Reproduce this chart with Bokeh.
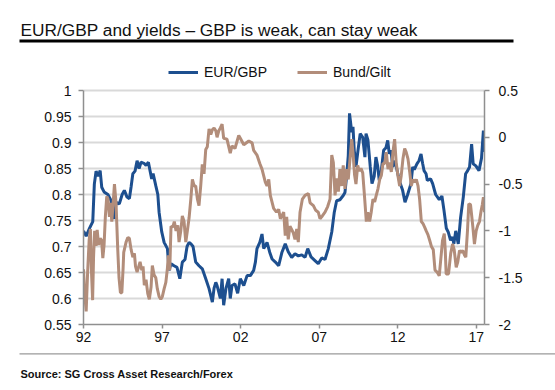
from bokeh.plotting import figure
from bokeh.layouts import column
from bokeh.models import (Range1d, LinearAxis, FixedTicker, Label, BoxAnnotation,
                          Legend, LegendItem)
from bokeh.embed import file_html
from bokeh.resources import INLINE

FONT = "Liberation Sans"

# ---------------- data ----------------
eur_years = [1992.00, 1992.17, 1992.38, 1992.59, 1992.69, 1992.80, 1992.93, 1993.06, 1993.16, 1993.31,
             1993.55, 1993.76, 1993.86, 1993.97, 1994.07, 1994.28, 1994.46, 1994.60, 1994.77, 1994.92,
             1995.03, 1995.14, 1995.28, 1995.41, 1995.54, 1995.66, 1995.85, 1995.98, 1996.13, 1996.24,
             1996.34, 1996.43, 1996.60, 1996.73, 1996.81, 1996.98, 1997.13, 1997.34, 1997.45, 1997.57,
             1997.76, 1997.95, 1998.13, 1998.29, 1998.46, 1998.59, 1998.72, 1998.84, 1998.97, 1999.14,
             1999.35, 1999.56, 1999.78, 1999.99, 2000.12, 2000.20, 2000.31, 2000.42, 2000.50, 2000.71,
             2000.82, 2000.92, 2001.07, 2001.24, 2001.34, 2001.45, 2001.64, 2001.81, 2001.98, 2002.20,
             2002.41, 2002.62, 2002.83, 2002.94, 2003.04, 2003.22, 2003.36, 2003.47, 2003.68, 2003.85,
             2004.00, 2004.21, 2004.42, 2004.63, 2004.84, 2005.03, 2005.25, 2005.46, 2005.67, 2005.89,
             2006.10, 2006.27, 2006.48, 2006.73, 2006.94, 2007.16, 2007.37, 2007.58, 2007.80, 2007.96,
             2008.11, 2008.32, 2008.53, 2008.64, 2008.75, 2008.85, 2008.93, 2009.07, 2009.15, 2009.23,
             2009.34, 2009.47, 2009.61, 2009.77, 2009.91, 2009.98, 2010.10, 2010.25, 2010.36, 2010.50,
             2010.61, 2010.72, 2010.82, 2010.93, 2011.10, 2011.25, 2011.36, 2011.46, 2011.57, 2011.68,
             2011.83, 2012.00, 2012.16, 2012.31, 2012.46, 2012.63, 2012.84, 2012.95, 2013.05, 2013.22,
             2013.35, 2013.48, 2013.58, 2013.67, 2013.80, 2013.88, 2014.09, 2014.22, 2014.41, 2014.64,
             2014.81, 2014.94, 2015.09, 2015.21, 2015.36, 2015.49, 2015.57, 2015.69, 2015.85, 2016.00,
             2016.17, 2016.32, 2016.45, 2016.57, 2016.70, 2016.80, 2016.97, 2017.17, 2017.33, 2017.45,
             2017.52]
eur_values = [0.730, 0.720, 0.735, 0.748, 0.820, 0.845, 0.835, 0.846, 0.814, 0.805,
              0.800, 0.788, 0.770, 0.753, 0.785, 0.782, 0.800, 0.808, 0.795, 0.792,
              0.815, 0.840, 0.845, 0.865, 0.850, 0.862, 0.860, 0.856, 0.862, 0.845,
              0.830, 0.840, 0.817, 0.800, 0.766, 0.728, 0.708, 0.696, 0.654, 0.667,
              0.663, 0.660, 0.638, 0.670, 0.675, 0.700, 0.708, 0.705, 0.700, 0.670,
              0.663, 0.657, 0.638, 0.619, 0.603, 0.593, 0.620, 0.631, 0.625, 0.600,
              0.638, 0.587, 0.620, 0.638, 0.600, 0.625, 0.628, 0.610, 0.638, 0.625,
              0.644, 0.644, 0.654, 0.670, 0.696, 0.708, 0.724, 0.696, 0.708, 0.689,
              0.676, 0.670, 0.663, 0.689, 0.705, 0.690, 0.679, 0.686, 0.682, 0.684,
              0.679, 0.696, 0.680, 0.673, 0.667, 0.678, 0.675, 0.696, 0.728, 0.766,
              0.788, 0.790, 0.798, 0.804, 0.837, 0.875, 0.956, 0.920, 0.930, 0.885,
              0.853, 0.885, 0.917, 0.910, 0.872, 0.917, 0.905, 0.853, 0.821, 0.835,
              0.872, 0.855, 0.827, 0.840, 0.885, 0.890, 0.904, 0.878, 0.885, 0.853,
              0.865, 0.840, 0.821, 0.808, 0.785, 0.800, 0.821, 0.853, 0.848, 0.859,
              0.865, 0.878, 0.860, 0.846, 0.840, 0.827, 0.830, 0.821, 0.800, 0.790,
              0.797, 0.770, 0.735, 0.728, 0.712, 0.718, 0.705, 0.730, 0.705, 0.756,
              0.795, 0.840, 0.846, 0.853, 0.897, 0.859, 0.855, 0.846, 0.870, 0.923,
              0.882]

bund_years = [1992.00, 1992.06, 1992.17, 1992.26, 1992.36, 1992.44, 1992.50, 1992.58, 1992.64, 1992.71,
              1992.80, 1992.87, 1992.96, 1993.06, 1993.15, 1993.23, 1993.31, 1993.39, 1993.48, 1993.56,
              1993.65, 1993.72, 1993.80, 1993.88, 1993.97, 1994.07, 1994.18, 1994.26, 1994.35, 1994.44,
              1994.52, 1994.56, 1994.71, 1994.82, 1994.92, 1995.03, 1995.14, 1995.24, 1995.31, 1995.41,
              1995.50, 1995.60, 1995.71, 1995.79, 1995.87, 1995.98, 1996.09, 1996.19, 1996.30, 1996.38,
              1996.49, 1996.60, 1996.70, 1996.81, 1996.92, 1997.02, 1997.13, 1997.24, 1997.34, 1997.40,
              1997.49, 1997.57, 1997.68, 1997.78, 1997.89, 1998.00, 1998.08, 1998.19, 1998.29, 1998.40,
              1998.51, 1998.61, 1998.72, 1998.83, 1998.93, 1999.04, 1999.14, 1999.25, 1999.35, 1999.46,
              1999.56, 1999.67, 1999.78, 1999.88, 1999.99, 2000.10, 2000.20, 2000.31, 2000.42, 2000.50,
              2000.61, 2000.71, 2000.82, 2000.92, 2001.13, 2001.34, 2001.45, 2001.64, 2001.88, 2001.98,
              2002.20, 2002.52, 2002.73, 2002.83, 2003.04, 2003.22, 2003.36, 2003.57, 2003.68, 2003.79,
              2003.89, 2004.10, 2004.28, 2004.42, 2004.53, 2004.74, 2004.84, 2004.93, 2005.03, 2005.14,
              2005.35, 2005.46, 2005.57, 2005.67, 2005.78, 2005.93, 2006.10, 2006.31, 2006.42, 2006.63,
              2006.78, 2006.94, 2007.05, 2007.20, 2007.37, 2007.54, 2007.69, 2007.80, 2007.90, 2008.01,
              2008.11, 2008.22, 2008.32, 2008.43, 2008.53, 2008.64, 2008.75, 2008.85, 2008.96, 2009.07,
              2009.15, 2009.25, 2009.34, 2009.45, 2009.55, 2009.66, 2009.77, 2009.87, 2010.00, 2010.10,
              2010.21, 2010.31, 2010.42, 2010.53, 2010.63, 2010.74, 2010.85, 2010.95, 2011.06, 2011.17,
              2011.27, 2011.38, 2011.48, 2011.59, 2011.69, 2011.80, 2011.90, 2012.01, 2012.12, 2012.22,
              2012.33, 2012.44, 2012.54, 2012.65, 2012.76, 2012.86, 2012.97, 2013.08, 2013.18, 2013.29,
              2013.39, 2013.50, 2013.60, 2013.71, 2013.81, 2013.92, 2014.03, 2014.15, 2014.26, 2014.37,
              2014.50, 2014.64, 2014.74, 2014.85, 2014.96, 2015.02, 2015.08, 2015.23, 2015.37, 2015.49,
              2015.59, 2015.72, 2015.82, 2015.93, 2016.04, 2016.14, 2016.25, 2016.33, 2016.44, 2016.52,
              2016.63, 2016.70, 2016.78, 2016.88, 2016.99, 2017.09, 2017.20, 2017.31, 2017.38, 2017.45,
              2017.52]
bund_values = [-1.41, -1.64, -1.86, -1.45, -1.10, -0.98, -1.40, -1.74, -1.28, -1.00,
               -1.16, -0.99, -1.15, -1.08, -1.10, -1.29, -1.15, -0.85, -0.63, -0.66,
               -0.85, -0.70, -0.90, -0.72, -0.50, -0.70, -1.20, -1.50, -1.66, -1.66,
               -1.40, -1.23, -1.12, -1.07, -1.08, -1.20, -1.28, -1.24, -1.38, -1.44,
               -1.39, -1.33, -1.42, -1.38, -1.58, -1.52, -1.67, -1.73, -1.60, -1.37,
               -1.47, -1.50, -1.62, -1.70, -1.73, -1.70, -1.62, -1.55, -1.40, -1.26,
               -1.42, -0.95, -0.96, -0.90, -1.00, -0.94, -1.12, -1.00, -0.84, -0.90,
               -1.12, -1.00, -0.86, -0.66, -0.45, -0.52, -0.52, -0.66, -0.73, -0.52,
               -0.29, -0.39, -0.13, -0.10, 0.09, 0.03, 0.08, 0.10, 0.07, 0.00,
               0.07, 0.10, 0.14, -0.01, -0.02, -0.17, -0.09, -0.12, 0.02, -0.01,
               -0.08, -0.04, -0.06, -0.14, -0.19, -0.28, -0.34, -0.48, -0.52, -0.45,
               -0.62, -0.76, -0.80, -0.77, -0.87, -0.80, -1.05, -0.85, -1.09, -0.95,
               -1.02, -1.09, -0.98, -1.12, -0.80, -0.66, -0.62, -0.60, -0.70, -0.73,
               -0.78, -0.80, -0.87, -0.84, -0.80, -0.74, -0.66, -0.19, -0.27, -0.62,
               -0.44, -0.58, -0.34, -0.52, -0.30, -0.55, -0.34, -0.45, -0.23, -0.02,
               -0.16, -0.40, -0.50, -0.30, -0.36, -0.33, -0.38, -0.60, -0.90, -0.80,
               -0.90, -0.80, -0.66, -0.69, -0.62, -0.55, -0.45, -0.41, -0.28, -0.28,
               -0.16, -0.34, -0.27, -0.37, -0.16, -0.02, -0.27, -0.41, -0.52, -0.41,
               -0.23, -0.12, -0.16, -0.23, -0.37, -0.52, -0.45, -0.48, -0.45, -0.52,
               -0.66, -0.90, -0.92, -0.96, -1.00, -1.04, -1.10, -1.17, -1.20, -1.42,
               -1.44, -1.48, -1.30, -1.10, -1.03, -1.20, -1.46, -1.46, -1.24, -1.14,
               -1.20, -1.39, -1.33, -1.21, -1.23, -1.21, -1.26, -1.28, -0.99, -0.71,
               -0.72, -0.83, -0.96, -1.14, -1.00, -0.94, -0.90, -0.78, -0.72, -0.64,
               -0.80]

left_ticks = [0.55, 0.6, 0.65, 0.7, 0.75, 0.8, 0.85, 0.9, 0.95, 1.0]
left_labels = ["0.55", "0.6", "0.65", "0.7", "0.75", "0.8", "0.85", "0.9", "0.95", "1"]
right_ticks = [-2.0, -1.5, -1.0, -0.5, 0.0, 0.5]
right_labels = ["-2", "-1.5", "-1", "-0.5", "0", "0.5"]
x_ticks = [1992, 1997, 2002, 2007, 2012, 2017]
x_labels = ["92", "97", "02", "07", "12", "17"]

title_text = "EUR/GBP and yields \u2013 GBP is weak, can stay weak"
source_text = "Source: SG Cross Asset Research/Forex"
series_names = ["EUR/GBP", "Bund/Gilt"]
colors = ["#1d4f8f", "#b28d7a"]

W = 555
TOP_H, MAIN_H, BOT_H = 50, 300, 40

# ---------------- top strip: title + underline ----------------
top = figure(width=W, height=TOP_H, output_backend="svg", toolbar_location=None,
             x_range=Range1d(0, W), y_range=Range1d(0, TOP_H),
             x_axis_type=None, y_axis_type=None, min_border=0, frame_align=False)
top.outline_line_color = None
top.grid.grid_line_color = None
top.add_layout(Label(x=20, y=21, text=title_text, text_font=FONT, text_font_size="17.3px",
                     text_color="#111111", text_baseline="alphabetic"))
top.add_layout(BoxAnnotation(left=19, right=513, bottom=8, top=11,
                             fill_color="black", fill_alpha=1, line_color=None))

# ---------------- main chart ----------------
px_per_left = 234.0 / 0.45
px_per_right = 234.0 / 2.5
left_top = 1.0 + 40.0 / px_per_left
right_top = 0.5 + 40.0 / px_per_right

p = figure(width=W, height=MAIN_H, output_backend="svg", toolbar_location=None,
           x_range=Range1d(1992.0, 2017.52), y_range=Range1d(0.55, left_top),
           min_border_left=83, min_border_right=71, min_border_top=0, min_border_bottom=26,
           frame_align=False)
p.outline_line_color = None
p.extra_y_ranges = {"right": Range1d(-2.0, right_top)}

right_axis = LinearAxis(y_range_name="right")
p.add_layout(right_axis, "right")

p.yaxis[0].ticker = FixedTicker(ticks=left_ticks)
p.yaxis[0].major_label_overrides = dict(zip(left_ticks, left_labels))
p.yaxis[0].bounds = (0.55, 1.0)
right_axis.ticker = FixedTicker(ticks=right_ticks)
right_axis.major_label_overrides = dict(zip(right_ticks, right_labels))
right_axis.bounds = (-2.0, 0.5)
p.xaxis[0].ticker = FixedTicker(ticks=x_ticks)
p.xaxis[0].major_label_overrides = dict(zip(x_ticks, x_labels))

for ax in [p.yaxis[0], right_axis, p.xaxis[0]]:
    ax.axis_line_color = "#8f8f8f"
    ax.axis_line_width = 1.5
    ax.major_tick_line_color = "#8f8f8f"
    ax.major_tick_line_width = 1.5
    ax.major_tick_in = 0
    ax.major_tick_out = 5
    ax.minor_tick_line_color = None
    ax.major_label_text_font = FONT
    ax.major_label_text_font_size = "14px"
    ax.major_label_text_color = "#111111"
p.yaxis[0].major_label_standoff = 7
right_axis.major_label_standoff = 9
p.xaxis[0].major_label_standoff = 3
p.xaxis[0].major_tick_out = 4

p.xgrid.grid_line_color = None
p.ygrid.ticker = FixedTicker(ticks=left_ticks)
p.ygrid.grid_line_color = "#d9d9d9"
p.ygrid.grid_line_width = 2

r1 = p.line(eur_years, eur_values, line_color=colors[0], line_width=3)
r2 = p.line(bund_years, bund_values, y_range_name="right", line_color=colors[1], line_width=3)

legend = Legend(items=[LegendItem(label=series_names[0], renderers=[r1]),
                       LegendItem(label=series_names[1], renderers=[r2])],
                orientation="horizontal", location=(85, 244),
                border_line_color=None, background_fill_alpha=0,
                padding=0, margin=0, spacing=30, glyph_width=30, glyph_height=16,
                label_standoff=6, label_text_font=FONT, label_text_font_size="14px",
                label_text_color="#111111", label_height=16)
p.add_layout(legend, "center")

# ---------------- bottom strip: separator + source ----------------
bot = figure(width=W, height=BOT_H, output_backend="svg", toolbar_location=None,
             x_range=Range1d(0, W), y_range=Range1d(0, BOT_H),
             x_axis_type=None, y_axis_type=None, min_border=0, frame_align=False)
bot.outline_line_color = None
bot.grid.grid_line_color = None
bot.add_layout(BoxAnnotation(left=19, right=W, bottom=36, top=37.2,
                             fill_color="#9a9a9a", fill_alpha=1, line_color=None))
bot.add_layout(Label(x=20, y=17, text=source_text, text_font=FONT, text_font_size="11px",
                     text_font_style="bold", text_color="#111111", text_baseline="middle"))

layout = column(top, p, bot, spacing=0)
open("out.html", "w").write(file_html(layout, INLINE))
